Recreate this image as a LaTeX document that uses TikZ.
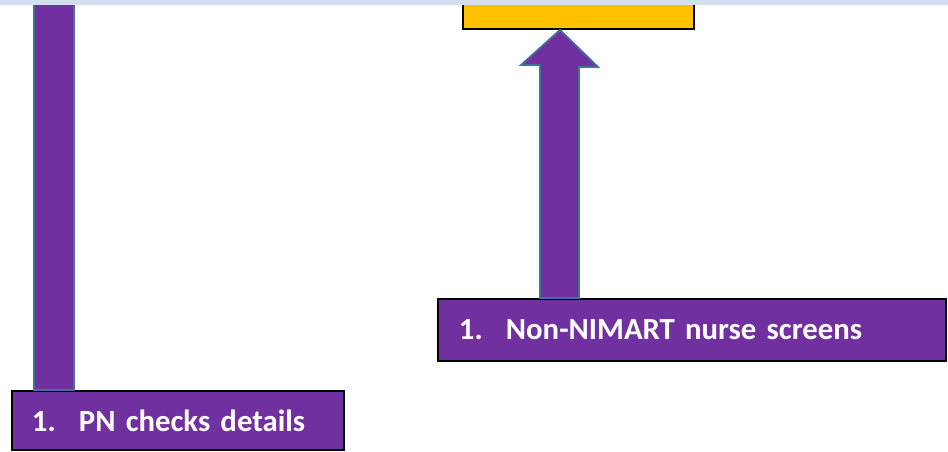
\documentclass[tikz,border=0pt]{standalone}
\usepackage{fontspec}
\setmainfont{Carlito}
\usepackage{tikz}
\usetikzlibrary{calc}

\definecolor{stepPurple}{HTML}{7030A0}
\definecolor{stepEdge}{HTML}{41719C}
\definecolor{stepGold}{HTML}{FFC000}
\definecolor{bandBlue}{HTML}{D3DEEF}

\begin{document}
\begin{tikzpicture}[x=0.02cm, y=-0.02cm,
    stepbox/.style={draw=black, line width=1.1pt, fill=stepPurple, text=white,
      font=\bfseries\fontsize{17.5}{21}\selectfont, align=left, anchor=north west},
    flow/.style={draw=stepEdge, line width=1pt, fill=stepPurple}]
  \useasboundingbox (0,0) rectangle (948,451);
  % boxes
  \node (goal) [draw=black, line width=1.1pt, fill=stepGold, anchor=north west,
    minimum width=4.62cm, minimum height=0.66cm, inner sep=0pt] at (462,-5) {};
  \node (screen) [stepbox, minimum width=10.16cm, minimum height=1.24cm,
    inner xsep=0.42cm, text width=9.32cm] at (437,298)
    {\makebox[0.94cm][l]{1.}Non-NIMART nurse screens};
  \node (check) [stepbox, minimum width=6.64cm, minimum height=1.18cm,
    inner xsep=0.4cm, text width=5.84cm] at (11,390)
    {\makebox[0.94cm][l]{1.}PN checks details};
  % bar going up from the PN box
  \coordinate (barTop) at (34,-5);
  \path[flow] (barTop) rectangle ($(check.north west)+(63,0)$);
  % block arrow from the screening box to the gold box
  \coordinate (tip) at ($(goal.south west)+(98,0)$);
  \path[flow] ($(screen.north west)+(103,0)$) -- ++(0,-233) -- ++(-19,0)
    -- (tip) -- ++(38,37) -- ++(-19,0) -- ($(screen.north west)+(142,0)$) -- cycle;
  \fill[bandBlue] (0,0) rectangle (948,5);
\end{tikzpicture}
\end{document}
